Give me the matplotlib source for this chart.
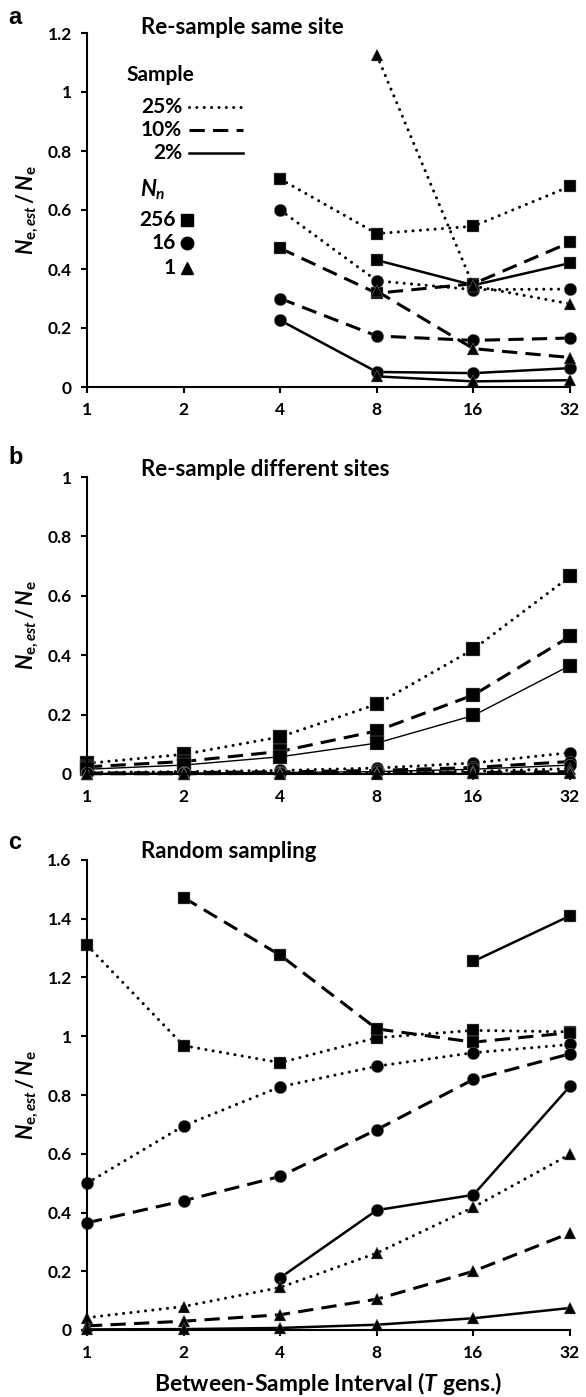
import numpy as np
import matplotlib
matplotlib.use('Agg')
import matplotlib.pyplot as plt
from matplotlib.lines import Line2D
from matplotlib.ticker import FuncFormatter

plt.rcParams['font.family'] = ['Lato', 'DejaVu Sans']
plt.rcParams['font.weight'] = 'bold'
plt.rcParams['axes.labelweight'] = 'bold'
plt.rcParams['mathtext.fontset'] = 'custom'
plt.rcParams['mathtext.rm'] = 'Lato:bold'
plt.rcParams['mathtext.it'] = 'Lato:italic:bold'
plt.rcParams['mathtext.bf'] = 'Lato:bold'

nan = np.nan

# Between-sample interval (generations)
T = [1, 2, 4, 8, 16, 32]
x_labels = ['1', '2', '4', '8', '16', '32']

# a: re-sample same site  (sq = Nn 256, ci = Nn 16, tr = Nn 1; 25/10/2 = % sampled)
a_sq25 = [nan, nan, 0.705, 0.52, 0.545, 0.68]
a_sq10 = [nan, nan, 0.47, 0.318, 0.35, 0.49]
a_sq2 = [nan, nan, nan, 0.43, 0.345, 0.42]
a_ci25 = [nan, nan, 0.60, 0.36, 0.33, 0.332]
a_ci10 = [nan, nan, 0.30, 0.173, 0.158, 0.166]
a_ci2 = [nan, nan, 0.226, 0.051, 0.047, 0.064]
a_tr25 = [nan, nan, nan, 1.125, 0.342, 0.282]
a_tr10 = [nan, nan, nan, 0.325, 0.13, 0.10]
a_tr2 = [nan, nan, nan, 0.036, 0.019, 0.023]

# b: re-sample different sites
b_sq25 = [0.036, 0.066, 0.125, 0.235, 0.42, 0.665]
b_sq10 = [0.024, 0.042, 0.076, 0.145, 0.266, 0.463]
b_sq2 = [0.016, 0.03, 0.058, 0.104, 0.197, 0.365]
b_ci25 = [0.005, 0.008, 0.012, 0.02, 0.037, 0.072]
b_ci10 = [0.003, 0.005, 0.007, 0.012, 0.022, 0.042]
b_ci2 = [0.002, 0.003, 0.005, 0.008, 0.016, 0.03]
b_tr25 = [0.001, 0.002, 0.003, 0.005, 0.009, 0.018]
b_tr10 = [0.001, 0.001, 0.002, 0.003, 0.005, 0.008]
b_tr2 = [0.0, 0.0, 0.001, 0.001, 0.002, 0.003]

# c: random sampling
c_sq25 = [1.31, 0.968, 0.91, 0.995, 1.02, 1.015]
c_sq10 = [nan, 1.472, 1.276, 1.025, 0.98, 1.012]
c_sq2 = [nan, nan, nan, nan, 1.255, 1.41]
c_ci25 = [0.50, 0.695, 0.828, 0.898, 0.944, 0.972]
c_ci10 = [0.365, 0.44, 0.523, 0.682, 0.853, 0.94]
c_ci2 = [nan, nan, 0.178, 0.408, 0.46, 0.83]
c_tr25 = [0.042, 0.08, 0.145, 0.262, 0.418, 0.598]
c_tr10 = [0.014, 0.03, 0.052, 0.105, 0.2, 0.33]
c_tr2 = [0.002, 0.003, 0.007, 0.018, 0.04, 0.075]

W, H = 586, 1397
fig = plt.figure(figsize=(W / 100, H / 100), dpi=100)


def fx(x):
    return x / W


def fy(y):
    return 1 - y / H


dot = dict(linestyle=(0, (0.01, 2.4)), dash_capstyle='round', lw=2.2)
dash = dict(linestyle=(0, (5, 2.7)), lw=2.2)
solid = dict(linestyle='-', lw=1.8)
mk = dict(color='black', mec='#909090', mew=0.3, clip_on=False)


def draw(ax, series, solid_lw=1.8):
    styles = [dot, dash, dict(solid, lw=solid_lw)]
    for marker, ms, group in series:
        for st, vals in zip(styles, group):
            ax.plot(T, vals, marker=marker, ms=ms, **st, **mk)


def style(ax, ymax, title, ty):
    ax.set_xscale('log', base=2)
    ax.set_xlim(1, 32)
    ax.set_ylim(0, ymax)
    ax.set_xticks(T)
    ax.set_xticklabels(x_labels)
    ax.minorticks_off()
    ax.set_yticks(np.arange(0, ymax + 0.01, 0.2))
    ax.yaxis.set_major_formatter(FuncFormatter(lambda v, _: f'{v:g}'))
    for s in ['top', 'right']:
        ax.spines[s].set_visible(False)
    for s in ['left', 'bottom']:
        ax.spines[s].set_linewidth(1.5)
    ax.tick_params(direction='out', length=4, width=1.5, pad=7, labelsize=12.5)
    ax.set_ylabel(r'$N_{\mathrm{e,}est}\,/\,N_{\mathrm{e}}$', fontsize=15.5)
    ax.yaxis.set_label_coords(-0.122, 0.5)
    ax.yaxis.label.set_va('center')
    fig.text(fx(141), fy(ty), title, fontsize=16, fontweight='bold', va='center', ha='left')


left, right = fx(87), fx(570)
ax_a = fig.add_axes([left, fy(387), right - left, fy(33) - fy(387)])
ax_b = fig.add_axes([left, fy(774), right - left, fy(477) - fy(774)])
ax_c = fig.add_axes([left, fy(1330), right - left, fy(860) - fy(1330)])

draw(ax_a, [('s', 9, [a_sq25, a_sq10, a_sq2]),
            ('o', 9, [a_ci25, a_ci10, a_ci2]),
            ('^', 9, [a_tr25, a_tr10, a_tr2])])
draw(ax_b, [('s', 10, [b_sq25, b_sq10, b_sq2]),
            ('o', 9, [b_ci25, b_ci10, b_ci2]),
            ('^', 9, [b_tr25, b_tr10, b_tr2])], solid_lw=1.0)
draw(ax_c, [('s', 9, [c_sq25, c_sq10, c_sq2]),
            ('o', 9, [c_ci25, c_ci10, c_ci2]),
            ('^', 9, [c_tr25, c_tr10, c_tr2])])

style(ax_a, 1.2, 'Re-sample same site', 27)
style(ax_b, 1.0, 'Re-sample different sites', 469)
style(ax_c, 1.6, 'Random sampling', 852)

ax_c.set_xlabel(r'Between-Sample Interval ($T$ gens.)', fontsize=16.5, fontweight='bold')
ax_c.xaxis.set_label_coords(0.5, -0.113)
ax_c.xaxis.label.set_va('center')

# panel letters
for letter, y in [('a', 17), ('b', 458), ('c', 843)]:
    fig.text(fx(8), fy(y), letter, fontsize=17, fontweight='bold',
             family=['Liberation Sans', 'DejaVu Sans'], va='center', ha='left')

# hand-made legend in panel a
fig.text(fx(126), fy(75), 'Sample', fontsize=15, fontweight='bold', va='center', ha='left')
for lab, st, y in [('25%', dot, 107), ('10%', dash, 130), ('2%', solid, 153)]:
    fig.text(fx(182), fy(y), lab, fontsize=15, fontweight='bold', va='center', ha='right')
    fig.add_artist(Line2D([fx(189), fx(243)], [fy(y), fy(y)], color='black',
                          transform=fig.transFigure, **st))
fig.text(fx(153), fy(190), r'$N_n$', fontsize=16, va='center', ha='center')
for lab, m, y in [('256', 's', 220), ('16', 'o', 243), ('1', '^', 268)]:
    fig.text(fx(176), fy(y), lab, fontsize=15, fontweight='bold', va='center', ha='right')
    fig.add_artist(Line2D([fx(187)], [fy(y)], marker=m, ms=9, color='black', linestyle='none',
                          transform=fig.transFigure))

fig.savefig('out.png', dpi=100)
